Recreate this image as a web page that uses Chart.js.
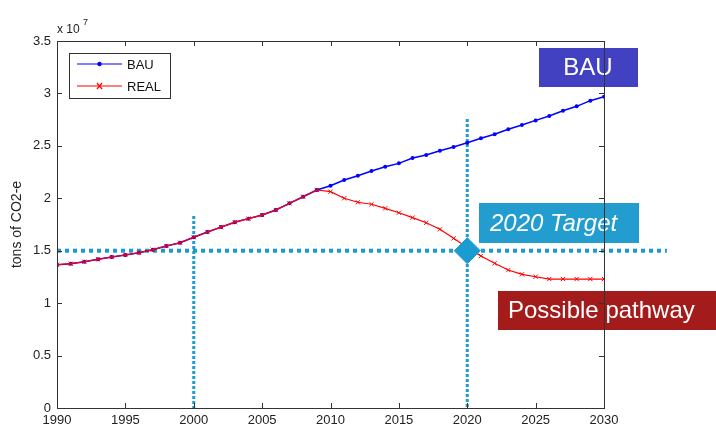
<!DOCTYPE html>
<html>
<head>
<meta charset="utf-8">
<script src="https://cdn.jsdelivr.net/npm/chart.js@4"></script>
<style>
  html, body { margin: 0; padding: 0; background: #fff; }
  #chart { display: block; }
</style>
</head>
<body>
<canvas id="chart" width="716" height="439"></canvas>
<script>
// Data (values in units of 10^7 tons of CO2-e)
const years = [];
for (let y = 1990; y <= 2030; y++) years.push(y);

const bauValues = [
  1.366, 1.376, 1.395, 1.418, 1.440, 1.459, 1.481, 1.510, 1.545, 1.576,
  1.628, 1.679, 1.725, 1.772, 1.806, 1.840, 1.888, 1.952, 2.015, 2.079,
  2.120, 2.174, 2.215, 2.260, 2.300, 2.333, 2.384, 2.413, 2.454, 2.489,
  2.530, 2.572, 2.610, 2.658, 2.699, 2.743, 2.785, 2.835, 2.877, 2.931,
  2.969
];
const realValues = [
  1.366, 1.376, 1.395, 1.418, 1.440, 1.459, 1.481, 1.510, 1.545, 1.576,
  1.628, 1.679, 1.725, 1.772, 1.806, 1.840, 1.888, 1.952, 2.015, 2.079,
  2.063, 2.000, 1.962, 1.943, 1.904, 1.862, 1.815, 1.767, 1.704, 1.618,
  1.530, 1.450, 1.380, 1.316, 1.275, 1.252, 1.230, 1.230, 1.230, 1.230,
  1.230
];
const seriesNames = ['BAU', 'REAL'];
const xTicks = [1990, 1995, 2000, 2005, 2010, 2015, 2020, 2025, 2030];
const yTicks = [0, 0.5, 1, 1.5, 2, 2.5, 3, 3.5];
const targetYear = 2020;
const targetValue = 1.5;
const baseYear = 2000;

const dotBlue = '#1a9bd1';
const axisColor = '#333333';
const fontName = '"Liberation Sans", Arial, sans-serif';

// Dotted guide lines, target boxes, legend and the MATLAB-style axis box
const decorations = {
  id: 'decorations',
  beforeDatasetsDraw(chart) {
    const ctx = chart.ctx;
    const x = chart.scales.x, y = chart.scales.y;
    ctx.save();
    ctx.strokeStyle = dotBlue;
    // horizontal target line
    ctx.lineWidth = 4;
    ctx.setLineDash([4, 4]);
    ctx.beginPath();
    ctx.moveTo(x.getPixelForValue(1990), y.getPixelForValue(targetValue));
    ctx.lineTo(x.getPixelForValue(2034.6), y.getPixelForValue(targetValue));
    ctx.stroke();
    // vertical lines
    ctx.lineWidth = 3;
    ctx.setLineDash([3, 2]);
    ctx.beginPath();
    ctx.moveTo(x.getPixelForValue(baseYear), y.getPixelForValue(1.83));
    ctx.lineTo(x.getPixelForValue(baseYear), y.getPixelForValue(0));
    ctx.moveTo(x.getPixelForValue(targetYear), y.getPixelForValue(2.756));
    ctx.lineTo(x.getPixelForValue(targetYear), y.getPixelForValue(0));
    ctx.stroke();
    ctx.restore();
  },
  afterDatasetsDraw(chart) {
    const ctx = chart.ctx;
    const W = chart.width;
    ctx.save();
    function box(x0, y0, x1, y1, fill, text, tx, italic, align) {
      ctx.fillStyle = fill;
      ctx.fillRect(x0, y0, x1 - x0, y1 - y0);
      ctx.fillStyle = '#ffffff';
      ctx.font = (italic ? 'italic ' : '') + '24px ' + fontName;
      ctx.textAlign = align;
      ctx.textBaseline = 'middle';
      ctx.fillText(text, tx, (y0 + y1) / 2 + 1);
    }
    box(539, 48, 638, 87, '#4141c2', 'BAU', 588, false, 'center');
    box(479, 203, 639, 243, '#239dcf', '2020 Target', 490, true, 'left');
    box(498, 291, W, 330, '#a31b1b', 'Possible pathway', 508, false, 'left');
    ctx.restore();
  },
  afterDraw(chart) {
    const ctx = chart.ctx;
    const a = chart.chartArea;
    const x = chart.scales.x, y = chart.scales.y;
    ctx.save();
    ctx.strokeStyle = axisColor;
    ctx.lineWidth = 1;
    ctx.setLineDash([]);
    ctx.strokeRect(a.left + 0.5, a.top + 0.5, a.right - a.left, a.bottom - a.top);
    ctx.beginPath();
    xTicks.forEach(v => {
      const px = Math.round(x.getPixelForValue(v)) + 0.5;
      ctx.moveTo(px, a.bottom); ctx.lineTo(px, a.bottom - 5);
      ctx.moveTo(px, a.top); ctx.lineTo(px, a.top + 5);
    });
    yTicks.forEach(v => {
      const py = Math.round(y.getPixelForValue(v)) + 0.5;
      ctx.moveTo(a.left, py); ctx.lineTo(a.left + 5, py);
      ctx.moveTo(a.right, py); ctx.lineTo(a.right - 5, py);
    });
    ctx.stroke();

    // exponent label
    ctx.fillStyle = '#222';
    ctx.textAlign = 'left';
    ctx.textBaseline = 'alphabetic';
    ctx.font = '12px ' + fontName;
    ctx.fillText('x 10', a.left, 33);
    ctx.font = '9px ' + fontName;
    ctx.fillText('7', a.left + 26, 25);

    // legend
    const lx = 69, ly = 53, lw = 101, lh = 45;
    ctx.fillStyle = '#fff';
    ctx.fillRect(lx, ly, lw, lh);
    ctx.strokeStyle = axisColor;
    ctx.strokeRect(lx + 0.5, ly + 0.5, lw, lh);
    const rows = [
      { name: seriesNames[0], color: '#0000ff', y: 64, marker: 'dot' },
      { name: seriesNames[1], color: '#ff0000', y: 86, marker: 'x' }
    ];
    rows.forEach(r => {
      ctx.strokeStyle = r.color;
      ctx.fillStyle = r.color;
      ctx.lineWidth = 1.2;
      ctx.beginPath();
      ctx.moveTo(77, r.y); ctx.lineTo(122, r.y);
      ctx.stroke();
      if (r.marker === 'dot') {
        ctx.beginPath(); ctx.arc(99.5, r.y, 2.2, 0, Math.PI * 2); ctx.fill();
      } else {
        ctx.beginPath();
        ctx.moveTo(97, r.y - 3); ctx.lineTo(102, r.y + 3);
        ctx.moveTo(102, r.y - 3); ctx.lineTo(97, r.y + 3);
        ctx.stroke();
      }
      ctx.fillStyle = '#111';
      ctx.font = '13px ' + fontName;
      ctx.textBaseline = 'middle';
      ctx.fillText(r.name, 127, r.y + 1);
    });
    ctx.restore();
  }
};

const toPoints = vals => vals.map((v, i) => ({ x: years[i], y: v }));

new Chart(document.getElementById('chart'), {
  type: 'line',
  data: {
    datasets: [
      {
        label: '2020 target',
        data: [{ x: targetYear, y: targetValue }],
        showLine: false,
        pointStyle: 'rectRot',
        pointRadius: 13,
        pointBackgroundColor: '#1a9bd1',
        pointBorderColor: '#1a9bd1',
        pointBorderWidth: 1
      },
      {
        label: seriesNames[1],
        data: toPoints(realValues),
        borderColor: '#ff0000',
        borderWidth: 1.2,
        pointStyle: 'crossRot',
        pointRadius: 3,
        pointBorderColor: '#ff0000',
        pointBorderWidth: 1,
        tension: 0
      },
      {
        label: seriesNames[0],
        data: toPoints(bauValues),
        borderColor: '#0000ff',
        borderWidth: 1.5,
        pointStyle: 'circle',
        pointRadius: 2,
        pointBackgroundColor: '#0000ff',
        pointBorderColor: '#0000ff',
        pointBorderWidth: 0,
        tension: 0
      }
    ]
  },
  options: {
    responsive: false,
    animation: false,
    devicePixelRatio: 1,
    layout: { padding: { top: 41, right: 112, left: 0, bottom: 0 } },
    plugins: {
      legend: { display: false },
      tooltip: { enabled: false }
    },
    scales: {
      x: {
        type: 'linear',
        min: 1990,
        max: 2030,
        afterFit: s => { s.height = 31; },
        afterBuildTicks: s => { s.ticks = xTicks.map(v => ({ value: v })); },
        grid: { display: false, drawTicks: false, tickLength: 0 },
        border: { display: false },
        ticks: {
          padding: 5,
          color: '#222',
          font: { family: fontName, size: 13 },
          callback: v => String(v),
          maxRotation: 0
        }
      },
      y: {
        min: 0,
        max: 3.5,
        afterFit: s => { s.width = 57; },
        afterBuildTicks: s => { s.ticks = yTicks.map(v => ({ value: v })); },
        grid: { display: false, drawTicks: false, tickLength: 0 },
        border: { display: false },
        title: {
          display: true,
          text: 'tons of CO2-e',
          color: '#222',
          font: { family: fontName, size: 14 },
          padding: { top: 9, bottom: 0 }
        },
        ticks: {
          padding: 6,
          color: '#222',
          font: { family: fontName, size: 13 },
          callback: v => String(v)
        }
      }
    }
  },
  plugins: [decorations]
});
</script>
</body>
</html>
